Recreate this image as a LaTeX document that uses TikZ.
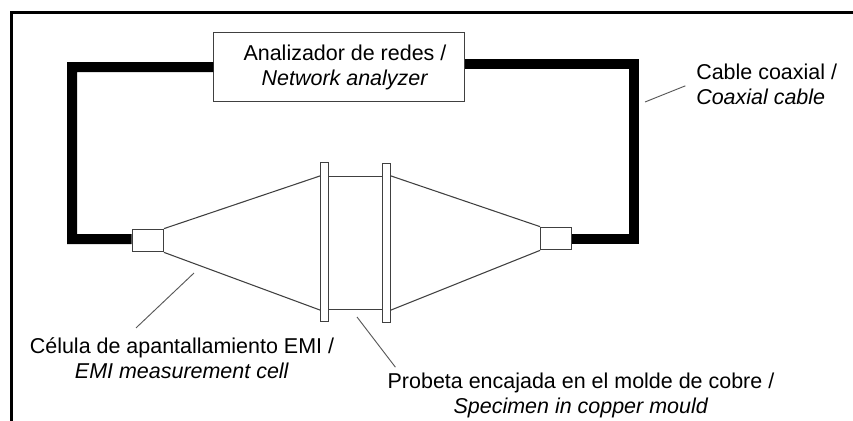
\documentclass[tikz,border=0pt]{standalone}
\usepackage{fontspec}
\setmainfont{Liberation Sans}
\begin{document}
\begin{tikzpicture}[x=0.75pt,y=-0.75pt,
        part/.style={draw=black!75, line width=0.8pt, fill=white, inner sep=0pt},
        flange/.style={part, minimum width=6pt, minimum height=119.5pt},
        coupler/.style={part, minimum width=23.5pt, minimum height=17pt},
        cable/.style={line width=7.5pt},
        thinline/.style={draw=black!75, line width=0.8pt},
        leader/.style={draw=black!65, line width=0.7pt},
        label/.style={font=\fontsize{16.1}{18.75}\selectfont, inner sep=0pt, align=center}]
        \useasboundingbox (0,0) rectangle (853,421);
        \draw[line width=1.6pt] (11.5,421) -- (11.5,12.5) -- (853,12.5);
        \node[part, label, minimum width=188pt, minimum height=51.75pt] (analyzer) at (339.25,67) {\hspace*{8.6pt}Analizador de redes /\\\hspace*{8.6pt}\textit{Network analyzer}};
        \node[coupler] (couplerL) at (147.75,240.5) {};
        \node[coupler] (couplerR) at (556.25,238.5) {};
        \node[thinline, inner sep=0pt, minimum width=45pt, minimum height=99.75pt] (body) at (355.25,243) {};
        \node[flange] (flangeA) at (324.5,242) {};
        \node[flange] (flangeB) at (386.5,242.75) {};
        \coordinate (cornerL) at (72,239);
        \coordinate (cornerR) at (634,238.5);
        \draw[cable] (analyzer.west) -| (cornerL) -- ([yshift=1.1pt]couplerL.west);
        \draw[cable] ([yshift=2.6pt]analyzer.east) -| (cornerR) -- (couplerR.east);
        \draw[thinline] (couplerL.north east) -- (flangeA.west |- body.north);
        \draw[thinline] (couplerL.south east) -- (flangeA.west |- body.south);
        \draw[thinline] (couplerR.north west) -- (flangeB.east |- body.north);
        \draw[thinline] (couplerR.south west) -- (flangeB.east |- body.south);
        \node[label, align=left, anchor=base west] (labelCable) at (696,104) {Cable coaxial /\\\textit{Coaxial cable}};
        \node[label, anchor=base] (labelCell) at (182,378) {Célula de apantallamiento EMI /\\\textit{EMI measurement cell}};
        \node[label, anchor=base] (labelSpecimen) at (581,413) {Probeta encajada en el molde de cobre /\\\textit{Specimen in copper mould}};
        \coordinate (tipCable) at (645,102);
        \coordinate (tipCell) at (194,273);
        \coordinate (tipSpecimen) at (357,317);
        \draw[leader] (tipCable) -- ([xshift=-8pt,yshift=-1.5pt]labelCable.west);
        \draw[leader] (tipCell) -- ([xshift=-34.5pt,yshift=6.75pt]labelCell.north);
        \draw[leader] (tipSpecimen) -- ([xshift=6pt,yshift=3.75pt]labelSpecimen.north west);
    \end{tikzpicture}
\end{document}
